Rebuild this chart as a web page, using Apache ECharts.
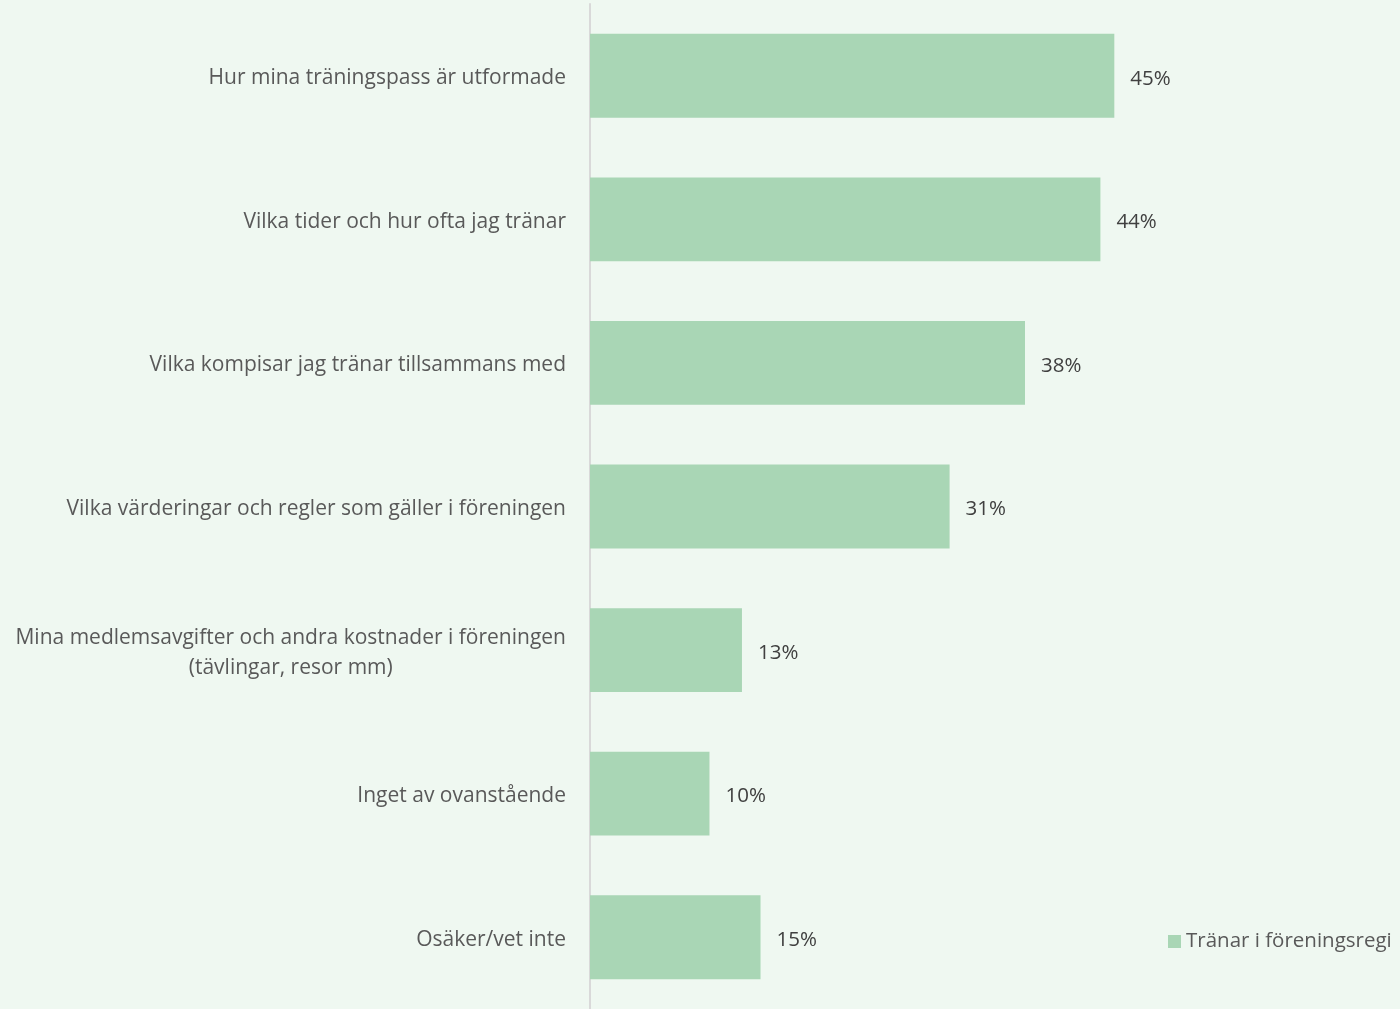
<!DOCTYPE html>
<html>
<head>
<meta charset="utf-8">
<script src="https://cdn.jsdelivr.net/npm/echarts@6/dist/echarts.min.js"></script>
<style>
  html, body { margin: 0; padding: 0; background: #eff8f1; }
  #main { width: 1400px; height: 1009px; }
</style>
</head>
<body>
<div id="main"></div>
<script>
// kategorier, uppifrån och ned
const categories = [
  'Hur mina träningspass är utformade',
  'Vilka tider och hur ofta jag tränar',
  'Vilka kompisar jag tränar tillsammans med',
  'Vilka värderingar och regler som gäller i föreningen',
  'Mina medlemsavgifter och andra kostnader i föreningen\n(tävlingar, resor mm)',
  'Inget av ovanstående',
  'Osäker/vet inte'
];
const seriesName = 'Tränar i föreningsregi';
// andel i procent
const values = [45.2, 44.0, 37.5, 31.0, 13.1, 10.3, 14.7];

const chart = echarts.init(document.getElementById('main'));
const font = '"Open Sans", sans-serif';

chart.setOption({
  backgroundColor: '#eff8f1',
  animation: false,
  textStyle: { fontFamily: font },
  grid: { left: 590, top: 4, bottom: -2, right: 114, containLabel: false },
  legend: {
    data: [seriesName],
    left: 1163,
    top: 926,
    icon: 'rect',
    itemWidth: 13,
    itemHeight: 13,
    itemGap: 6,
    textStyle: { color: '#595959', fontSize: 20.5, fontFamily: font }
  },
  xAxis: {
    type: 'value',
    min: 0,
    max: 60,
    show: false
  },
  yAxis: {
    type: 'category',
    data: categories,
    inverse: true,
    axisLine: { show: true, lineStyle: { color: '#d9d9d9', width: 2 } },
    axisTick: { show: false },
    axisLabel: {
      color: '#595959',
      fontSize: 21,
      fontFamily: font,
      margin: 24,
      align: 'right',
      lineHeight: 30,
      padding: [5, 0, 0, 0],
      // flerradiga etiketter centreras rad för rad
      formatter: v => v.split('\n').map(s => '{c|' + s + '}').join('\n'),
      rich: {
        c: { align: 'center', color: '#595959', fontSize: 21, fontFamily: font, lineHeight: 30 }
      }
    }
  },
  series: [{
    name: seriesName,
    type: 'bar',
    data: values,
    barCategoryGap: '41.6%',
    itemStyle: { color: '#a9d6b5' },
    label: {
      show: true,
      position: 'right',
      distance: 16,
      offset: [0, 3],
      color: '#404040',
      fontSize: 20.5,
      fontFamily: font,
      formatter: p => Math.round(p.value) + '%'
    }
  }]
});
</script>
</body>
</html>
